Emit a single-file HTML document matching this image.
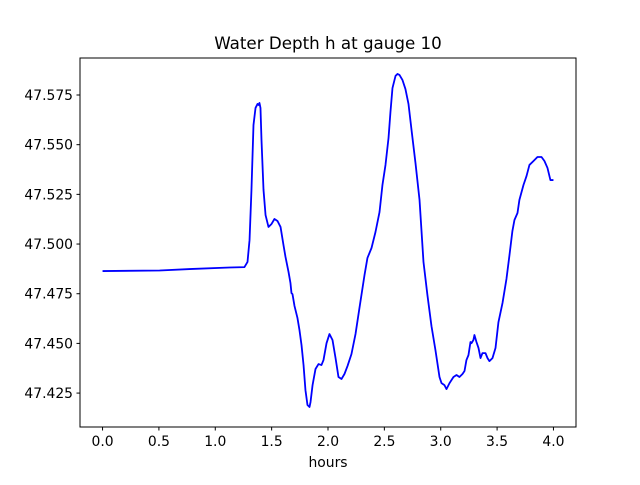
<!DOCTYPE html>
<html><head><meta charset="utf-8"><style>
body{margin:0;background:#fff;}
svg text{font-family:"DejaVu Sans","Liberation Sans",sans-serif;fill:#000;}
</style></head><body>
<svg id="chart" width="640" height="480" xmlns="http://www.w3.org/2000/svg">
<rect width="640" height="480" fill="#fff"/>
<text x="328" y="49" font-size="16.7" text-anchor="middle">Water Depth h at gauge 10</text>
<g id="ticks"></g>
<path id="series" fill="none" stroke="#0000ff" stroke-width="1.8" stroke-linejoin="round"/>
<rect x="80" y="58" width="496" height="369" fill="none" stroke="#000" stroke-width="1"/>
<text x="328" y="467" font-size="13.9" text-anchor="middle">hours</text>
</svg>
<script>
const hours=[0,0.506,0.772,1.126,1.259,1.286,1.304,1.321,1.339,1.357,1.375,1.384,1.392,1.401,1.410,1.428,1.446,1.472,1.499,1.525,1.552,1.579,1.605,1.623,1.650,1.667,1.676,1.685,1.703,1.729,1.747,1.765,1.783,1.800,1.818,1.836,1.845,1.863,1.889,1.916,1.942,1.960,1.987,2.013,2.040,2.067,2.093,2.120,2.146,2.173,2.208,2.244,2.279,2.324,2.350,2.386,2.421,2.457,2.483,2.510,2.537,2.554,2.572,2.599,2.616,2.634,2.661,2.687,2.714,2.741,2.776,2.812,2.847,2.882,2.918,2.953,2.989,3.007,3.033,3.051,3.078,3.113,3.140,3.166,3.193,3.211,3.228,3.246,3.264,3.273,3.290,3.299,3.317,3.335,3.353,3.370,3.397,3.415,3.432,3.459,3.486,3.512,3.548,3.583,3.610,3.636,3.654,3.681,3.698,3.734,3.761,3.787,3.823,3.858,3.894,3.920,3.947,3.973,4.0];
const depth=[47.4864,47.4867,47.4874,47.4882,47.4884,47.4910,47.5020,47.5272,47.5599,47.5685,47.5705,47.5700,47.5710,47.5685,47.5524,47.5272,47.5146,47.5086,47.5101,47.5126,47.5116,47.5086,47.4995,47.4935,47.4859,47.4804,47.4753,47.4748,47.4688,47.4628,47.4567,47.4492,47.4391,47.4265,47.4190,47.4180,47.4205,47.4290,47.4371,47.4396,47.4391,47.4416,47.4501,47.4547,47.4517,47.4426,47.4331,47.4321,47.4346,47.4386,47.4446,47.4547,47.4678,47.4844,47.4930,47.4980,47.5060,47.5161,47.5297,47.5398,47.5534,47.5664,47.5785,47.5846,47.5856,47.5851,47.5825,47.5780,47.5705,47.5574,47.5408,47.5222,47.4910,47.4743,47.4587,47.4467,47.4331,47.4300,47.4290,47.4270,47.4300,47.4331,47.4341,47.4331,47.4346,47.4361,47.4416,47.4441,47.4507,47.4501,47.4517,47.4542,47.4507,47.4477,47.4426,47.4451,47.4451,47.4426,47.4411,47.4426,47.4477,47.4607,47.4703,47.4824,47.4945,47.5066,47.5121,47.5156,47.5222,47.5297,47.5342,47.5398,47.5418,47.5438,47.5438,47.5418,47.5383,47.5322,47.5322];
const xTicks=[0,0.5,1.0,1.5,2.0,2.5,3.0,3.5,4.0];
const xTickLabels=["0.0","0.5","1.0","1.5","2.0","2.5","3.0","3.5","4.0"];
const yTicks=[47.425,47.45,47.475,47.5,47.525,47.55,47.575];
const yTickLabels=["47.425","47.450","47.475","47.500","47.525","47.550","47.575"];

const X0=80,X1=576,Y0=58,Y1=427;
const xMin=-0.2,xMax=4.2,yMin=47.40793,yMax=47.59362;
const sx=v=>X0+(v-xMin)/(xMax-xMin)*(X1-X0);
const sy=v=>Y1-(v-yMin)/(yMax-yMin)*(Y1-Y0);
const NS="http://www.w3.org/2000/svg";
const g=document.getElementById('ticks');
function mk(tag,attrs){const e=document.createElementNS(NS,tag);for(const k in attrs)e.setAttribute(k,attrs[k]);return e;}
xTicks.forEach((v,i)=>{
  const l=mk('line',{x1:sx(v),x2:sx(v),y1:Y1,y2:Y1+3.5,stroke:'#000'});
  
  
  g.appendChild(l);
  const t=mk('text',{x:sx(v),y:Y1+19,'font-size':'13.9','text-anchor':'middle'});
  
  
  t.textContent=xTickLabels[i];g.appendChild(t);
});
yTicks.forEach((v,i)=>{
  const l=mk('line',{x1:X0-3.5,x2:X0,y1:sy(v),y2:sy(v),stroke:'#000'});
  
  
  g.appendChild(l);
  const t=mk('text',{x:X0-7,y:sy(v)+5,'font-size':'13.9','text-anchor':'end'});
  
  
  t.textContent=yTickLabels[i];g.appendChild(t);
});
document.getElementById('series').setAttribute('d',hours.map((h,i)=>(i?'L':'M')+sx(h).toFixed(2)+' '+sy(depth[i]).toFixed(2)).join(' '));
</script>
</body></html>
